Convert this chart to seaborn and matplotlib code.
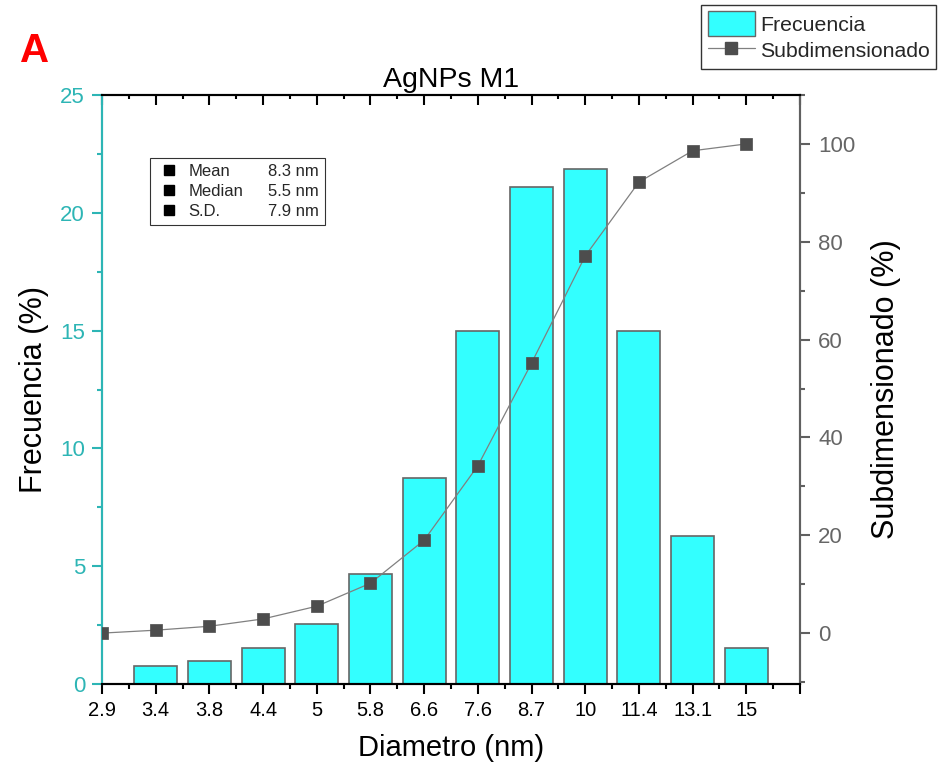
import numpy as np
import pandas as pd
import matplotlib
matplotlib.use('Agg')
import matplotlib.pyplot as plt
import seaborn as sns
from matplotlib.ticker import MultipleLocator, FixedLocator
from matplotlib.patches import Patch
from matplotlib.lines import Line2D

# datos
diametros = ['2.9', '3.4', '3.8', '4.4', '5', '5.8', '6.6', '7.6',
             '8.7', '10', '11.4', '13.1', '15']
# frecuencia (%) para 3.4 ... 15 (no hay barra en 2.9)
frecuencia = [0.76, 0.98, 1.53, 2.55, 4.67, 8.74, 15.0, 21.1, 21.86, 15.0, 6.28, 1.53]
# subdimensionado (%) para 2.9 ... 15
subdim = [0.0, 0.6, 1.4, 2.9, 5.5, 10.2, 19.0, 34.2, 55.2, 77.1, 92.2, 98.6, 100.0]
stats_names = ['Mean', 'Median', 'S.D.']
stats_vals = ['8.3 nm', '5.5 nm', '7.9 nm']

cyan = '#33FFFF'
teal = '#2DB5B5'
gris = '#606060'
marcador = '#4D4D4D'

sns.set_theme(style='ticks')
plt.rcParams['font.family'] = ['Liberation Sans', 'DejaVu Sans']

fig = plt.figure(figsize=(9.48, 7.79), dpi=100)
ax = fig.add_axes([102 / 948, 1 - 684 / 779, 698 / 948, 589 / 779])

df_bar = pd.DataFrame({'Diametro': diametros[1:], 'Frecuencia': frecuencia})
sns.barplot(data=df_bar, x='Diametro', y='Frecuencia', order=diametros,
            color=cyan, saturation=1, edgecolor='#666666', linewidth=1.2,
            width=0.8, ax=ax, zorder=2)

ax2 = ax.twinx()
x_pos = np.arange(len(diametros))
sns.lineplot(x=x_pos, y=subdim, ax=ax2, color='#808080', linewidth=0.9, zorder=3)
sns.scatterplot(x=x_pos, y=subdim, ax=ax2, marker='s', s=70, color=marcador,
                edgecolor=marcador, linewidth=0.5, zorder=4)
for art in ax2.lines + ax2.collections:
    art.set_clip_on(True)
    art.set_clip_path(ax2.patch)

# ejes
ax.set_xlim(0, 13)
ax.set_ylim(0, 25)
ax2.set_ylim(-10.4, 110)
ax.set_xticks(range(14))
ax.set_xticklabels(diametros + [''])
ax.xaxis.set_minor_locator(FixedLocator(np.arange(0.5, 13, 1)))
ax.yaxis.set_major_locator(MultipleLocator(5))
ax.yaxis.set_minor_locator(MultipleLocator(2.5))
ax2.yaxis.set_major_locator(MultipleLocator(20))
ax2.yaxis.set_minor_locator(MultipleLocator(10))

for a in (ax, ax2):
    a.spines['left'].set_color(teal)
    a.spines['right'].set_color(gris)
    a.spines['top'].set_color('black')
    a.spines['bottom'].set_color('black')
    for s in a.spines.values():
        s.set_linewidth(1.5)

ax.tick_params(axis='x', which='major', direction='out', length=7.2, width=1.5,
               colors='black', labelsize=14.5, pad=5)
ax.tick_params(axis='x', which='minor', direction='out', length=3.6, width=1.5,
               colors='black')
ax.tick_params(axis='y', which='major', direction='out', length=7.2, width=1.5,
               colors=teal, labelsize=16, pad=5)
ax.tick_params(axis='y', which='minor', direction='out', length=3.6, width=1.5,
               colors=teal)
ax2.tick_params(axis='y', which='major', direction='out', length=7.2, width=1.5,
                colors=gris, labelcolor='#666666', labelsize=16, pad=6)
ax2.tick_params(axis='y', which='minor', direction='out', length=3.6, width=1.5,
                colors=gris)

# marcas interiores en el eje superior (mismo localizador que el eje inferior)
ax2.xaxis.set_visible(True)
ax2.xaxis.set_ticks_position('top')
ax2.tick_params(axis='x', which='major', direction='in', length=7.2, width=1.5,
                colors='black', labeltop=False, labelbottom=False, bottom=False)
ax2.tick_params(axis='x', which='minor', direction='in', length=3.2, width=1.5,
                colors='black', bottom=False)

ax.set_xlabel('Diametro (nm)', fontsize=21, color='black', labelpad=10)
ax.set_ylabel('Frecuencia (%)', fontsize=22, color='black', labelpad=8)
ax2.set_ylabel('Subdimensionado (%)', fontsize=22, color='black', labelpad=11)
ax.set_title('AgNPs M1', fontsize=20.5, color='black', pad=6)

fig.text(20 / 948, 1 - 62 / 779, 'A', color='red', fontsize=29,
         fontweight='bold', va='baseline', ha='left')

# leyenda principal
handles = [Patch(facecolor=cyan, edgecolor='#666666', linewidth=1),
           Line2D([], [], color='#808080', linewidth=0.9, marker='s',
                  markersize=8, markerfacecolor=marcador,
                  markeredgecolor=marcador)]
leg = fig.legend(handles, ['Frecuencia', 'Subdimensionado'], loc='upper right',
                 bbox_to_anchor=(936 / 948, 1 - 5 / 779), frameon=True,
                 fancybox=False, edgecolor='black', fontsize=15.3,
                 handlelength=2.2, handleheight=1.4, borderpad=0.3,
                 labelspacing=0.1, handletextpad=0.25, borderaxespad=0)
leg.get_frame().set_linewidth(1)

# cuadro de estadisticas
sq = Line2D([], [], linestyle='', marker='s', color='black', markersize=7.5)
blank = Line2D([], [], linestyle='', marker='')
st = ax2.legend([sq] * 3 + [blank] * 3, stats_names + stats_vals, ncol=2,
                loc='upper left', bbox_to_anchor=((150 - 102) / 698, (684 - 158) / 589),
                frameon=True, fancybox=False, edgecolor='black', fontsize=12,
                handlelength=1.6, handletextpad=0.35, columnspacing=-0.45,
                borderpad=0.35, labelspacing=0.3, borderaxespad=0)
st.get_frame().set_linewidth(0.8)

fig.savefig('out.png', dpi=100)
